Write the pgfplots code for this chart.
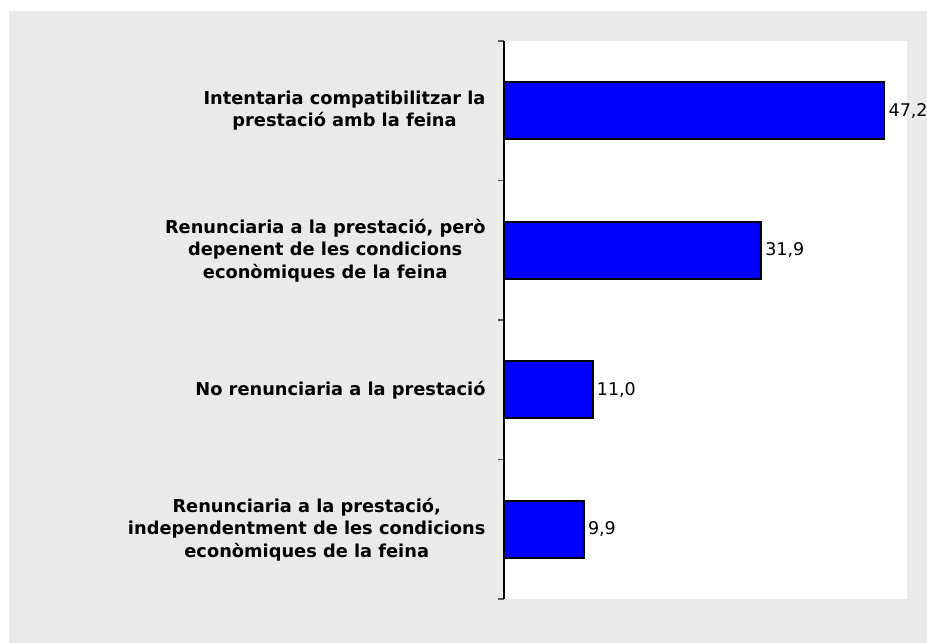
\documentclass[border=0pt]{standalone}
\usepackage{fontspec}
\setmainfont{DejaVu Sans}
\usepackage{pgfplots}
\pgfplotsset{compat=1.18}
\definecolor{PanelGray}{HTML}{EAEAEA}
\definecolor{BarBlue}{HTML}{0000FF}
\definecolor{TickGray}{HTML}{555555}

\begin{document}
\begin{tikzpicture}
  \useasboundingbox (0pt,0pt) rectangle (927pt,643pt);
  \fill[white] (0pt,0pt) rectangle (927pt,643pt);
  \fill[PanelGray] (9pt,0pt) rectangle (927pt,632pt);
  \begin{axis}[
    at={(504pt,44pt)}, anchor=south west,
    scale only axis, width=403pt, height=558pt,
    xbar, bar width=0.41,
    xmin=0, xmax=50, ymin=0.5, ymax=4.5,
    axis background/.style={fill=white},
    axis x line=none, axis y line=left,
    y axis line style={-, black, line width=1.2pt},
    ytick={1,2,3,4}, major tick length=0pt,
    minor ytick={0.5,1.5,2.5,3.5,4.5},
    minor tick length=6pt, tick align=outside,
    minor tick style={TickGray, line width=1.2pt},
    yticklabels={
      {Renunciaria a la prestació,\\independentment de les condicions\\econòmiques de la feina},
      {No renunciaria a la prestació},
      {Renunciaria a la prestació, però\\depenent de les condicions\\econòmiques de la feina},
      {Intentaria compatibilitzar la\\prestació amb la feina}},
    yticklabel style={align=center, font=\fontsize{17.8}{22.5}\selectfont\bfseries, xshift=-15pt},
    nodes near coords,
    nodes near coords style={font=\fontsize{17.5}{21}\selectfont, black,
      /pgf/number format/.cd, fixed, fixed zerofill, precision=1, use comma, assume math mode=true},
    clip=false,
  ]
  \addplot[fill=BarBlue, draw=black, line width=1.8pt]
    coordinates {(9.9,1) (11.0,2) (31.9,3) (47.2,4)};
  \end{axis}
\end{tikzpicture}
\end{document}
